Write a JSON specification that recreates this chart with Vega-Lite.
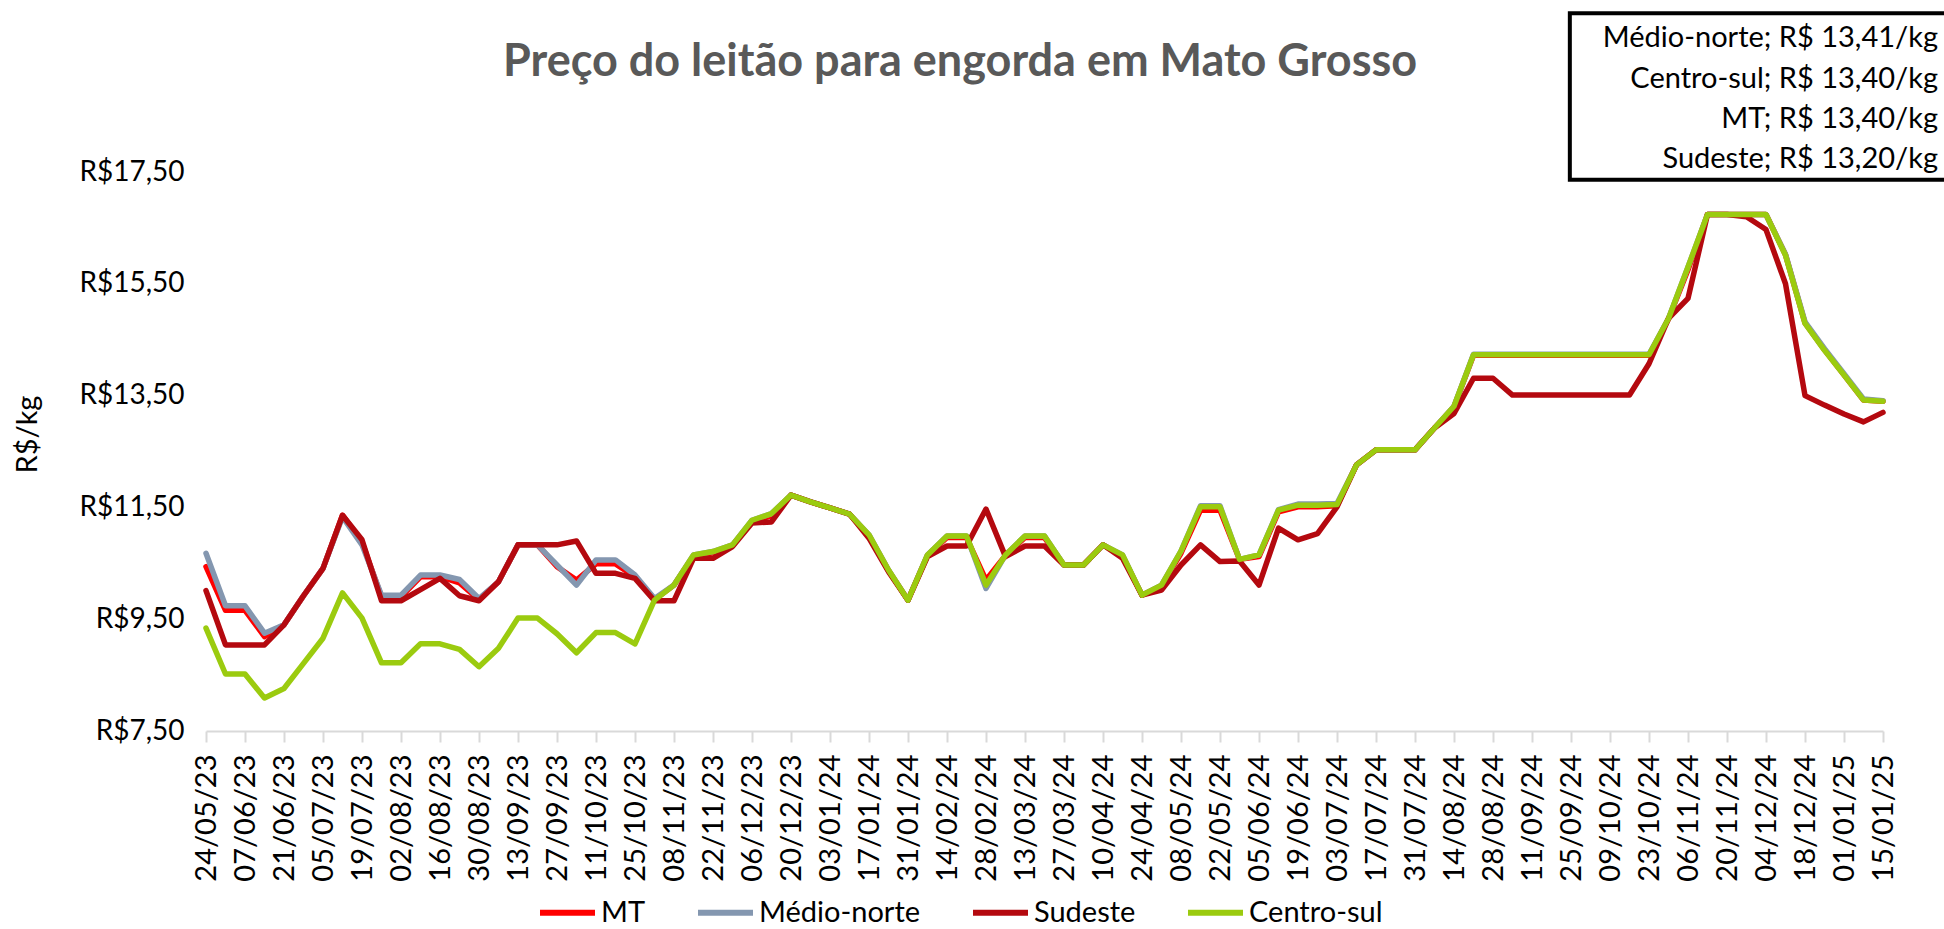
{
  "$schema": "https://vega.github.io/schema/vega-lite/v6.json",
  "width": 1677,
  "height": 559,
  "autosize": {"type": "none"},
  "padding": {"left": 206, "top": 172, "right": 61, "bottom": 198},
  "background": "white",
  "config": {"font": "Lato", "view": {"stroke": null}, "axis": {"labelOverlap": false}, "axisX": {"labelOverlap": false}},
  "title": {
    "text": "Preço do leitão para engorda em Mato Grosso",
    "anchor": "start",
    "frame": "group",
    "dx": 297,
    "offset": -110,
    "baseline": "alphabetic",
    "font": "Lato",
    "fontSize": 45,
    "fontWeight": "bold",
    "color": "#595959"
  },
  "layer": [
    {
      "data": {
        "values": [
          {"data": "2023/05/24", "MT": 10.44, "Médio-norte": 10.68, "Sudeste": 10.01, "Centro-sul": 9.34},
          {"data": "2023/05/31", "MT": 9.66, "Médio-norte": 9.74, "Sudeste": 9.04, "Centro-sul": 8.52},
          {"data": "2023/06/07", "MT": 9.66, "Médio-norte": 9.74, "Sudeste": 9.04, "Centro-sul": 8.52},
          {"data": "2023/06/14", "MT": 9.19, "Médio-norte": 9.25, "Sudeste": 9.04, "Centro-sul": 8.09},
          {"data": "2023/06/21", "MT": 9.40, "Médio-norte": 9.40, "Sudeste": 9.40, "Centro-sul": 8.26},
          {"data": "2023/06/28", "MT": 9.92, "Médio-norte": 9.92, "Sudeste": 9.92, "Centro-sul": 8.71},
          {"data": "2023/07/05", "MT": 10.41, "Médio-norte": 10.41, "Sudeste": 10.41, "Centro-sul": 9.16},
          {"data": "2023/07/12", "MT": 11.36, "Médio-norte": 11.33, "Sudeste": 11.36, "Centro-sul": 9.97},
          {"data": "2023/07/19", "MT": 10.88, "Médio-norte": 10.83, "Sudeste": 10.92, "Centro-sul": 9.52},
          {"data": "2023/07/26", "MT": 9.90, "Médio-norte": 9.93, "Sudeste": 9.83, "Centro-sul": 8.72},
          {"data": "2023/08/02", "MT": 9.90, "Médio-norte": 9.93, "Sudeste": 9.83, "Centro-sul": 8.72},
          {"data": "2023/08/09", "MT": 10.26, "Médio-norte": 10.29, "Sudeste": 10.03, "Centro-sul": 9.06},
          {"data": "2023/08/16", "MT": 10.26, "Médio-norte": 10.29, "Sudeste": 10.23, "Centro-sul": 9.06},
          {"data": "2023/08/23", "MT": 10.15, "Médio-norte": 10.21, "Sudeste": 9.92, "Centro-sul": 8.96},
          {"data": "2023/08/30", "MT": 9.85, "Médio-norte": 9.87, "Sudeste": 9.83, "Centro-sul": 8.65},
          {"data": "2023/09/06", "MT": 10.17, "Médio-norte": 10.17, "Sudeste": 10.17, "Centro-sul": 8.98},
          {"data": "2023/09/13", "MT": 10.83, "Médio-norte": 10.83, "Sudeste": 10.83, "Centro-sul": 9.52},
          {"data": "2023/09/20", "MT": 10.83, "Médio-norte": 10.83, "Sudeste": 10.83, "Centro-sul": 9.52},
          {"data": "2023/09/27", "MT": 10.44, "Médio-norte": 10.47, "Sudeste": 10.83, "Centro-sul": 9.24},
          {"data": "2023/10/04", "MT": 10.20, "Médio-norte": 10.11, "Sudeste": 10.90, "Centro-sul": 8.90},
          {"data": "2023/10/11", "MT": 10.49, "Médio-norte": 10.56, "Sudeste": 10.32, "Centro-sul": 9.26},
          {"data": "2023/10/18", "MT": 10.49, "Médio-norte": 10.56, "Sudeste": 10.32, "Centro-sul": 9.26},
          {"data": "2023/10/25", "MT": 10.26, "Médio-norte": 10.29, "Sudeste": 10.23, "Centro-sul": 9.06},
          {"data": "2023/11/01", "MT": 9.85, "Médio-norte": 9.87, "Sudeste": 9.83, "Centro-sul": 9.84},
          {"data": "2023/11/08", "MT": 10.11, "Médio-norte": 10.11, "Sudeste": 9.83, "Centro-sul": 10.11},
          {"data": "2023/11/15", "MT": 10.63, "Médio-norte": 10.65, "Sudeste": 10.59, "Centro-sul": 10.65},
          {"data": "2023/11/22", "MT": 10.69, "Médio-norte": 10.71, "Sudeste": 10.59, "Centro-sul": 10.71},
          {"data": "2023/11/29", "MT": 10.82, "Médio-norte": 10.83, "Sudeste": 10.80, "Centro-sul": 10.83},
          {"data": "2023/12/06", "MT": 11.25, "Médio-norte": 11.27, "Sudeste": 11.22, "Centro-sul": 11.27},
          {"data": "2023/12/13", "MT": 11.35, "Médio-norte": 11.39, "Sudeste": 11.24, "Centro-sul": 11.39},
          {"data": "2023/12/20", "MT": 11.72, "Médio-norte": 11.72, "Sudeste": 11.72, "Centro-sul": 11.72},
          {"data": "2023/12/27", "MT": 11.60, "Médio-norte": 11.60, "Sudeste": 11.60, "Centro-sul": 11.60},
          {"data": "2024/01/03", "MT": 11.49, "Médio-norte": 11.49, "Sudeste": 11.49, "Centro-sul": 11.49},
          {"data": "2024/01/10", "MT": 11.38, "Médio-norte": 11.38, "Sudeste": 11.38, "Centro-sul": 11.38},
          {"data": "2024/01/17", "MT": 10.99, "Médio-norte": 11.01, "Sudeste": 10.95, "Centro-sul": 11.01},
          {"data": "2024/01/24", "MT": 10.37, "Médio-norte": 10.38, "Sudeste": 10.35, "Centro-sul": 10.38},
          {"data": "2024/01/31", "MT": 9.84, "Médio-norte": 9.84, "Sudeste": 9.84, "Centro-sul": 9.84},
          {"data": "2024/02/07", "MT": 10.64, "Médio-norte": 10.65, "Sudeste": 10.62, "Centro-sul": 10.65},
          {"data": "2024/02/14", "MT": 10.96, "Médio-norte": 10.99, "Sudeste": 10.81, "Centro-sul": 10.99},
          {"data": "2024/02/21", "MT": 10.96, "Médio-norte": 10.99, "Sudeste": 10.81, "Centro-sul": 10.99},
          {"data": "2024/02/28", "MT": 10.20, "Médio-norte": 10.05, "Sudeste": 11.47, "Centro-sul": 10.11},
          {"data": "2024/03/06", "MT": 10.64, "Médio-norte": 10.65, "Sudeste": 10.62, "Centro-sul": 10.65},
          {"data": "2024/03/13", "MT": 10.96, "Médio-norte": 10.99, "Sudeste": 10.81, "Centro-sul": 10.99},
          {"data": "2024/03/20", "MT": 10.96, "Médio-norte": 10.99, "Sudeste": 10.81, "Centro-sul": 10.99},
          {"data": "2024/03/27", "MT": 10.47, "Médio-norte": 10.47, "Sudeste": 10.47, "Centro-sul": 10.47},
          {"data": "2024/04/03", "MT": 10.47, "Médio-norte": 10.47, "Sudeste": 10.47, "Centro-sul": 10.47},
          {"data": "2024/04/10", "MT": 10.83, "Médio-norte": 10.83, "Sudeste": 10.83, "Centro-sul": 10.83},
          {"data": "2024/04/17", "MT": 10.63, "Médio-norte": 10.65, "Sudeste": 10.59, "Centro-sul": 10.65},
          {"data": "2024/04/24", "MT": 9.93, "Médio-norte": 9.93, "Sudeste": 9.93, "Centro-sul": 9.93},
          {"data": "2024/05/01", "MT": 10.10, "Médio-norte": 10.11, "Sudeste": 10.02, "Centro-sul": 10.11},
          {"data": "2024/05/08", "MT": 10.68, "Médio-norte": 10.72, "Sudeste": 10.47, "Centro-sul": 10.72},
          {"data": "2024/05/15", "MT": 11.45, "Médio-norte": 11.53, "Sudeste": 10.83, "Centro-sul": 11.51},
          {"data": "2024/05/22", "MT": 11.45, "Médio-norte": 11.53, "Sudeste": 10.53, "Centro-sul": 11.51},
          {"data": "2024/05/29", "MT": 10.57, "Médio-norte": 10.57, "Sudeste": 10.54, "Centro-sul": 10.57},
          {"data": "2024/06/05", "MT": 10.62, "Médio-norte": 10.65, "Sudeste": 10.11, "Centro-sul": 10.65},
          {"data": "2024/06/12", "MT": 11.42, "Médio-norte": 11.46, "Sudeste": 11.13, "Centro-sul": 11.45},
          {"data": "2024/06/19", "MT": 11.51, "Médio-norte": 11.56, "Sudeste": 10.92, "Centro-sul": 11.54},
          {"data": "2024/06/26", "MT": 11.51, "Médio-norte": 11.56, "Sudeste": 11.03, "Centro-sul": 11.54},
          {"data": "2024/07/03", "MT": 11.53, "Médio-norte": 11.57, "Sudeste": 11.51, "Centro-sul": 11.55},
          {"data": "2024/07/10", "MT": 12.26, "Médio-norte": 12.26, "Sudeste": 12.26, "Centro-sul": 12.26},
          {"data": "2024/07/17", "MT": 12.53, "Médio-norte": 12.53, "Sudeste": 12.53, "Centro-sul": 12.53},
          {"data": "2024/07/24", "MT": 12.53, "Médio-norte": 12.53, "Sudeste": 12.53, "Centro-sul": 12.53},
          {"data": "2024/07/31", "MT": 12.53, "Médio-norte": 12.53, "Sudeste": 12.53, "Centro-sul": 12.53},
          {"data": "2024/08/07", "MT": 12.92, "Médio-norte": 12.92, "Sudeste": 12.92, "Centro-sul": 12.92},
          {"data": "2024/08/14", "MT": 13.30, "Médio-norte": 13.31, "Sudeste": 13.18, "Centro-sul": 13.31},
          {"data": "2024/08/21", "MT": 14.22, "Médio-norte": 14.24, "Sudeste": 13.81, "Centro-sul": 14.23},
          {"data": "2024/08/28", "MT": 14.22, "Médio-norte": 14.24, "Sudeste": 13.81, "Centro-sul": 14.23},
          {"data": "2024/09/04", "MT": 14.22, "Médio-norte": 14.24, "Sudeste": 13.51, "Centro-sul": 14.23},
          {"data": "2024/09/11", "MT": 14.22, "Médio-norte": 14.24, "Sudeste": 13.51, "Centro-sul": 14.23},
          {"data": "2024/09/18", "MT": 14.22, "Médio-norte": 14.24, "Sudeste": 13.51, "Centro-sul": 14.23},
          {"data": "2024/09/25", "MT": 14.22, "Médio-norte": 14.24, "Sudeste": 13.51, "Centro-sul": 14.23},
          {"data": "2024/10/02", "MT": 14.22, "Médio-norte": 14.24, "Sudeste": 13.51, "Centro-sul": 14.23},
          {"data": "2024/10/09", "MT": 14.22, "Médio-norte": 14.24, "Sudeste": 13.51, "Centro-sul": 14.23},
          {"data": "2024/10/16", "MT": 14.22, "Médio-norte": 14.24, "Sudeste": 13.51, "Centro-sul": 14.23},
          {"data": "2024/10/23", "MT": 14.22, "Médio-norte": 14.24, "Sudeste": 14.07, "Centro-sul": 14.23},
          {"data": "2024/10/30", "MT": 14.87, "Médio-norte": 14.88, "Sudeste": 14.88, "Centro-sul": 14.88},
          {"data": "2024/11/06", "MT": 15.75, "Médio-norte": 15.80, "Sudeste": 15.24, "Centro-sul": 15.80},
          {"data": "2024/11/13", "MT": 16.74, "Médio-norte": 16.74, "Sudeste": 16.74, "Centro-sul": 16.74},
          {"data": "2024/11/20", "MT": 16.74, "Médio-norte": 16.74, "Sudeste": 16.74, "Centro-sul": 16.74},
          {"data": "2024/11/27", "MT": 16.74, "Médio-norte": 16.74, "Sudeste": 16.70, "Centro-sul": 16.74},
          {"data": "2024/12/04", "MT": 16.74, "Médio-norte": 16.74, "Sudeste": 16.47, "Centro-sul": 16.74},
          {"data": "2024/12/11", "MT": 16.02, "Médio-norte": 16.03, "Sudeste": 15.50, "Centro-sul": 16.01},
          {"data": "2024/12/18", "MT": 14.80, "Médio-norte": 14.82, "Sudeste": 13.50, "Centro-sul": 14.79},
          {"data": "2024/12/25", "MT": 14.32, "Médio-norte": 14.34, "Sudeste": 13.33, "Centro-sul": 14.31},
          {"data": "2025/01/01", "MT": 13.87, "Médio-norte": 13.89, "Sudeste": 13.17, "Centro-sul": 13.87},
          {"data": "2025/01/08", "MT": 13.42, "Médio-norte": 13.44, "Sudeste": 13.03, "Centro-sul": 13.42},
          {"data": "2025/01/15", "MT": 13.40, "Médio-norte": 13.41, "Sudeste": 13.20, "Centro-sul": 13.40}
        ]
      },
      "transform": [
        {"fold": ["MT", "Médio-norte", "Sudeste", "Centro-sul"], "as": ["serie", "preco"]}
      ],
      "mark": {"type": "line", "strokeWidth": 5.5, "strokeJoin": "round", "strokeCap": "round"},
      "encoding": {
        "x": {
          "field": "data",
          "type": "temporal",
          "scale": {
            "domain": [
              {"year": 2023, "month": 5, "date": 24},
              {"year": 2025, "month": 1, "date": 15}
            ],
            "nice": false
          },
          "axis": {
            "title": null,
            "grid": false,
            "format": "%d/%m/%y",
            "tickCount": 100,
            "values": [
              {"year": 2023, "month": 5, "date": 24},
              {"year": 2023, "month": 6, "date": 7},
              {"year": 2023, "month": 6, "date": 21},
              {"year": 2023, "month": 7, "date": 5},
              {"year": 2023, "month": 7, "date": 19},
              {"year": 2023, "month": 8, "date": 2},
              {"year": 2023, "month": 8, "date": 16},
              {"year": 2023, "month": 8, "date": 30},
              {"year": 2023, "month": 9, "date": 13},
              {"year": 2023, "month": 9, "date": 27},
              {"year": 2023, "month": 10, "date": 11},
              {"year": 2023, "month": 10, "date": 25},
              {"year": 2023, "month": 11, "date": 8},
              {"year": 2023, "month": 11, "date": 22},
              {"year": 2023, "month": 12, "date": 6},
              {"year": 2023, "month": 12, "date": 20},
              {"year": 2024, "month": 1, "date": 3},
              {"year": 2024, "month": 1, "date": 17},
              {"year": 2024, "month": 1, "date": 31},
              {"year": 2024, "month": 2, "date": 14},
              {"year": 2024, "month": 2, "date": 28},
              {"year": 2024, "month": 3, "date": 13},
              {"year": 2024, "month": 3, "date": 27},
              {"year": 2024, "month": 4, "date": 10},
              {"year": 2024, "month": 4, "date": 24},
              {"year": 2024, "month": 5, "date": 8},
              {"year": 2024, "month": 5, "date": 22},
              {"year": 2024, "month": 6, "date": 5},
              {"year": 2024, "month": 6, "date": 19},
              {"year": 2024, "month": 7, "date": 3},
              {"year": 2024, "month": 7, "date": 17},
              {"year": 2024, "month": 7, "date": 31},
              {"year": 2024, "month": 8, "date": 14},
              {"year": 2024, "month": 8, "date": 28},
              {"year": 2024, "month": 9, "date": 11},
              {"year": 2024, "month": 9, "date": 25},
              {"year": 2024, "month": 10, "date": 9},
              {"year": 2024, "month": 10, "date": 23},
              {"year": 2024, "month": 11, "date": 6},
              {"year": 2024, "month": 11, "date": 20},
              {"year": 2024, "month": 12, "date": 4},
              {"year": 2024, "month": 12, "date": 18},
              {"year": 2025, "month": 1, "date": 1},
              {"year": 2025, "month": 1, "date": 15}
            ],
            "labelAngle": 270,
            "labelFont": "Lato",
            "labelFontSize": 29,
            "labelColor": "#000000",
            "labelPadding": 12,
            "labelOverlap": false,
            "labelSeparation": 0,
            "labelFlush": false,
            "labelBound": false,
            "tickSize": 11,
            "tickWidth": 2,
            "tickColor": "#D9D9D9",
            "domainColor": "#D9D9D9",
            "domainWidth": 2
          }
        },
        "y": {
          "field": "preco",
          "type": "quantitative",
          "scale": {"domain": [7.5, 17.5], "zero": false, "nice": false},
          "axis": {
            "values": [7.5, 9.5, 11.5, 13.5, 15.5, 17.5],
            "labelExpr": "'R$' + replace(format(datum.value, '.2f'), '.', ',')",
            "domain": false,
            "ticks": false,
            "grid": false,
            "labelPadding": 22,
            "labelFont": "Lato",
            "labelFontSize": 28,
            "labelColor": "#000000",
            "labelFlush": false,
            "labelOverlap": false,
            "title": "R$/kg",
            "titleFont": "Lato",
            "titleFontSize": 29,
            "titleFontWeight": "normal",
            "titleColor": "#000000",
            "titleAngle": 270,
            "titleX": -179,
            "titleY": 262,
            "titleAlign": "center",
            "titleBaseline": "middle"
          }
        },
        "color": {
          "field": "serie",
          "type": "nominal",
          "scale": {
            "domain": ["MT", "Médio-norte", "Sudeste", "Centro-sul"],
            "range": ["#FF0000", "#8497B0", "#B4090F", "#9BCB0F"]
          },
          "legend": {
            "title": null,
            "orient": "none",
            "legendX": 331,
            "legendY": 710,
            "direction": "horizontal",
            "padding": 0,
            "symbolType": "stroke",
            "symbolSize": 3025,
            "symbolStrokeWidth": 6,
            "labelFont": "Lato",
            "labelFontSize": 29,
            "labelColor": "#000000",
            "labelOffset": 3,
            "labelLimit": 500,
            "columnPadding": 40
          }
        }
      }
    },
    {
      "data": {"values": [{}]},
      "mark": {"type": "rect", "fill": "white", "stroke": "black", "strokeWidth": 4},
      "encoding": {
        "x": {"datum": {"year": 2024, "month": 9, "date": 24, "hours": 14}, "type": "temporal"},
        "x2": {"datum": {"year": 2025, "month": 2, "date": 12}},
        "y": {"datum": 20.34, "type": "quantitative"},
        "y2": {"datum": 17.36}
      }
    },
    {
      "data": {"values": [{}]},
      "mark": {
        "type": "text",
        "text": ["Médio-norte; R$ 13,41/kg", "Centro-sul; R$ 13,40/kg", "MT; R$ 13,40/kg", "Sudeste; R$ 13,20/kg"],
        "align": "right",
        "baseline": "alphabetic",
        "lineHeight": 40.3,
        "font": "Lato",
        "fontSize": 29,
        "color": "#000000"
      },
      "encoding": {
        "x": {"datum": {"year": 2025, "month": 2, "date": 3, "hours": 18}, "type": "temporal"},
        "y": {"datum": 19.73, "type": "quantitative"}
      }
    }
  ]
}
